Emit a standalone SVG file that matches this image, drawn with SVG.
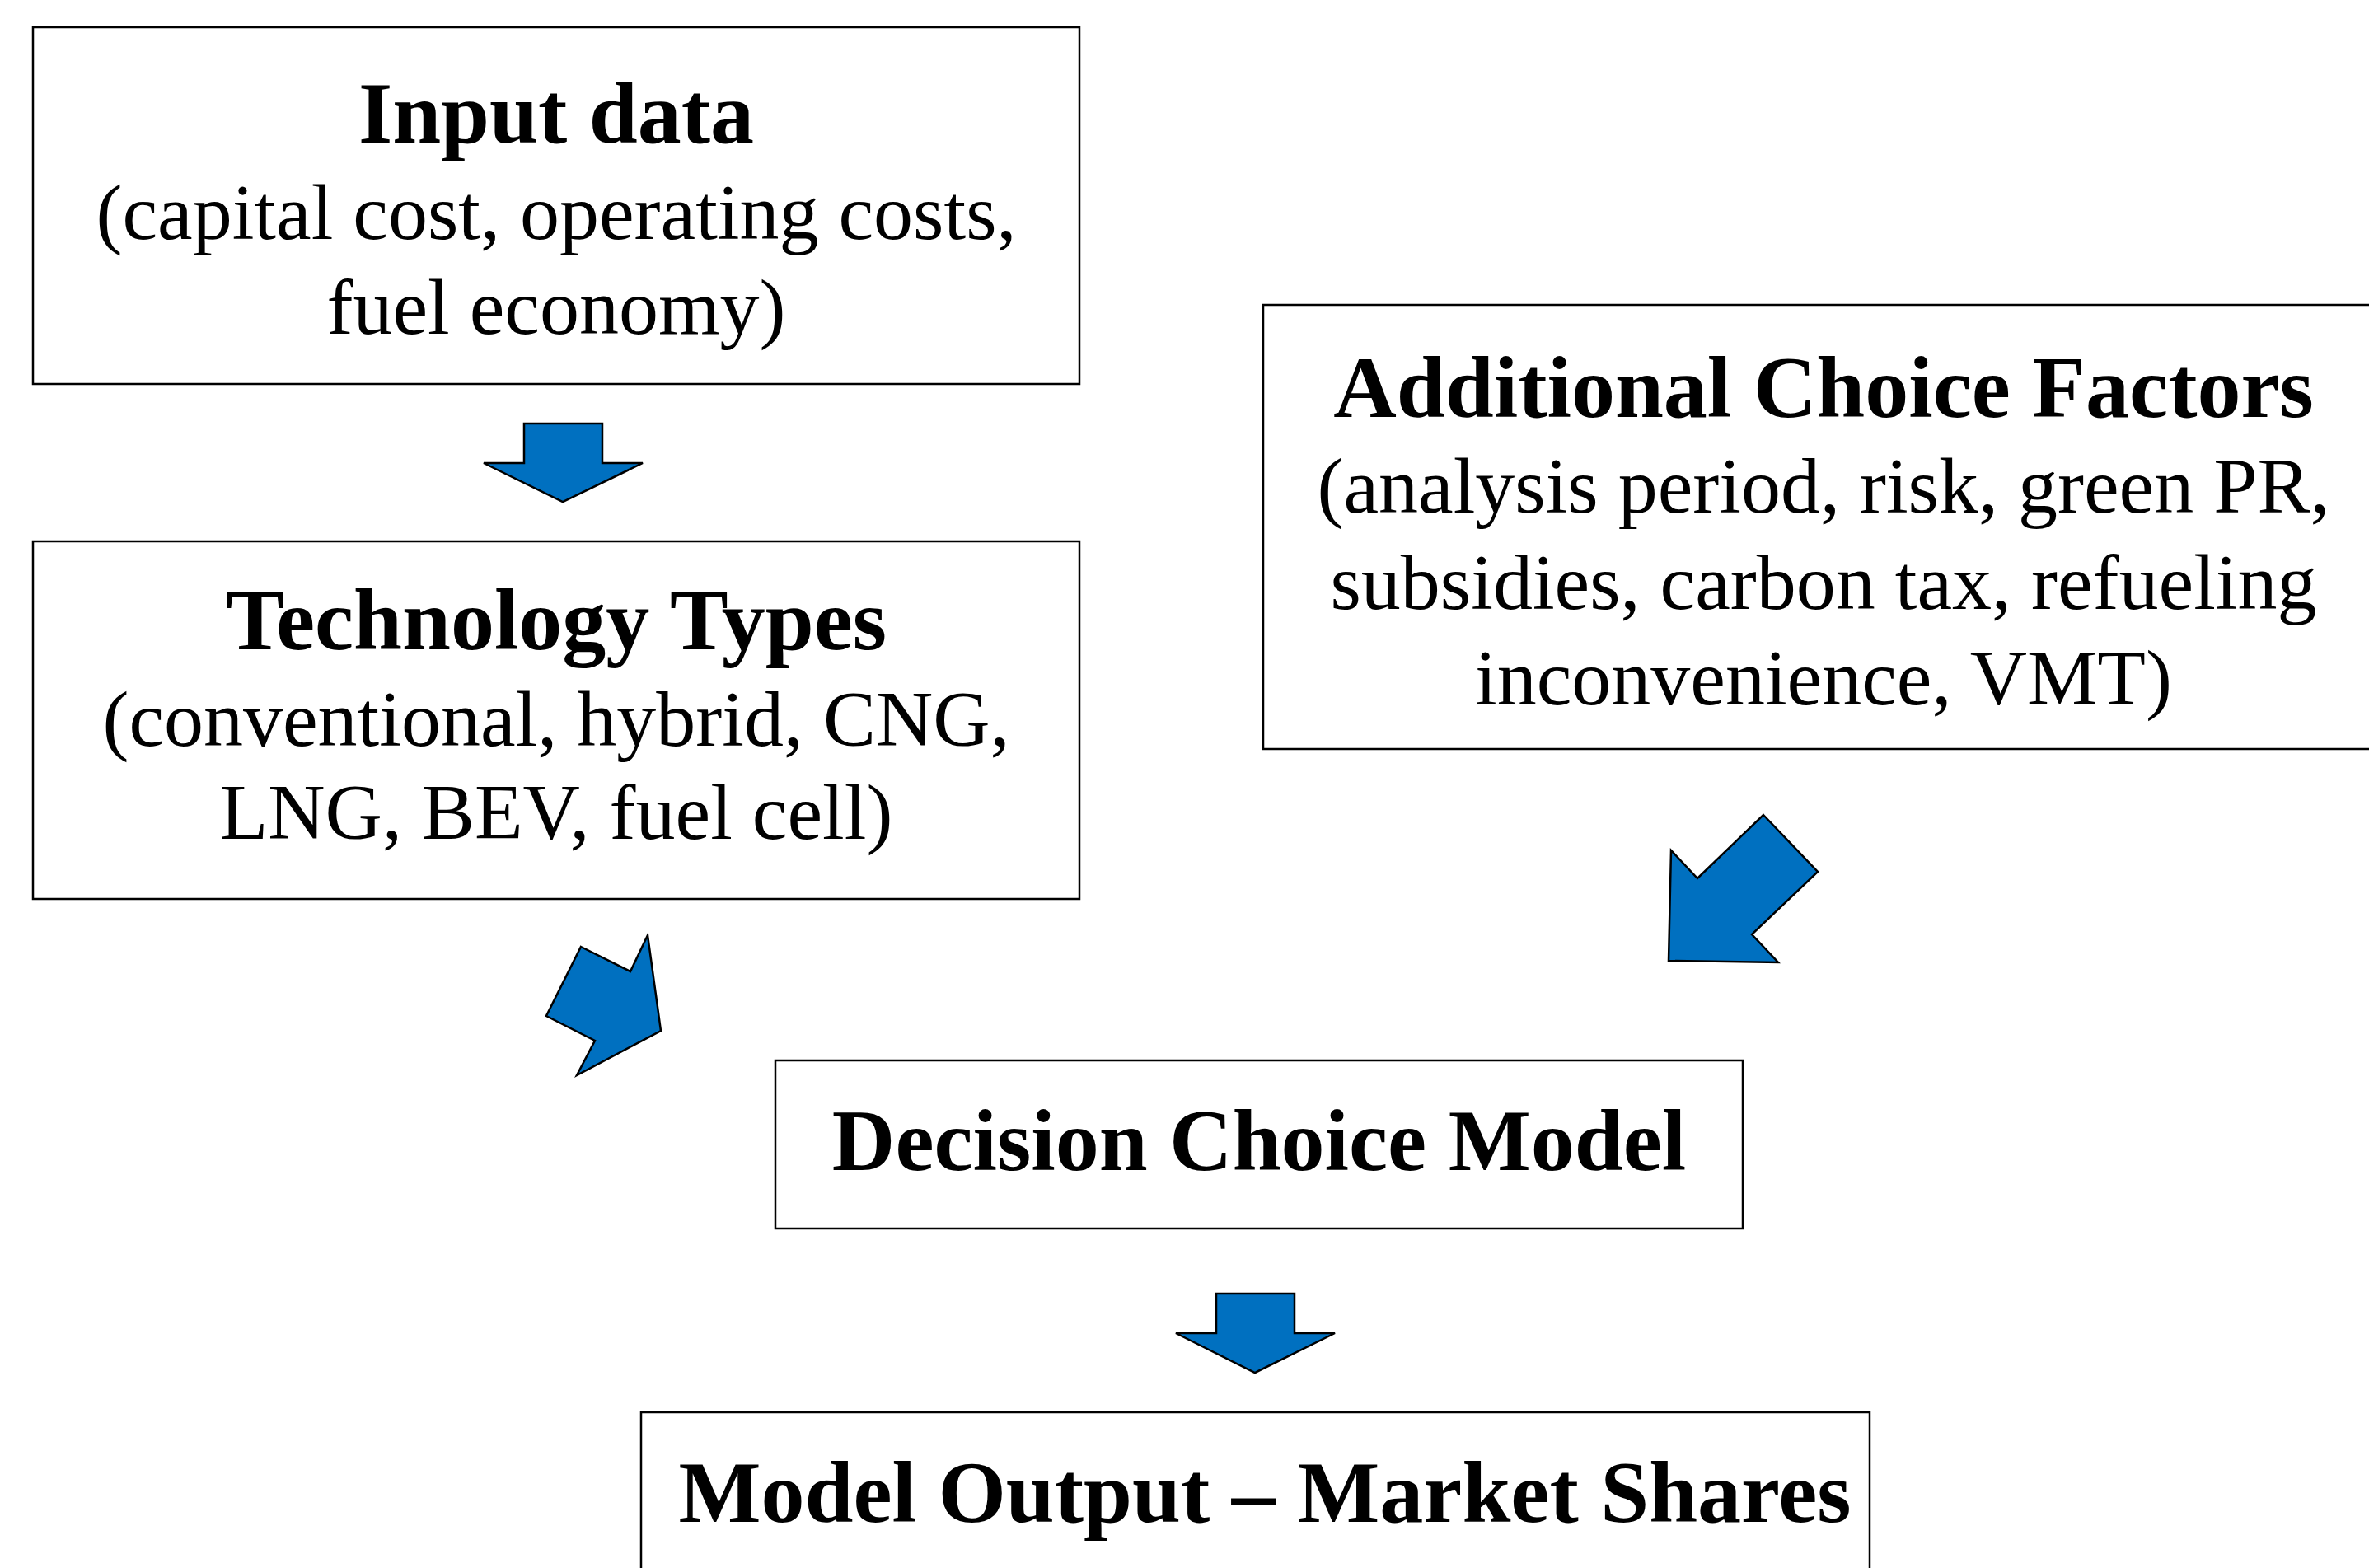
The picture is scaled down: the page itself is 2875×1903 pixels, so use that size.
<svg xmlns="http://www.w3.org/2000/svg" width="2875" height="1903" viewBox="0 0 2875 1903">
  <style>
    .box { fill: #ffffff; stroke: #000000; stroke-width: 2.5; }
    .arrow { fill: #0070C0; stroke: #000000; stroke-width: 2.5; stroke-linejoin: miter; }
    text { font-family: "Liberation Serif", "Times New Roman", serif; fill: #000000; text-anchor: middle; }
    .title { font-size: 106px; font-weight: bold; }
    .body { font-size: 96px; }
  </style>
  <rect width="2875" height="1903" fill="#ffffff"/>

  <g id="input-data">
    <rect class="box" x="40" y="33" width="1270" height="433"/>
    <text class="title" x="675" y="173">Input data</text>
    <text class="body" x="675" y="290">(capital cost, operating costs,</text>
    <text class="body" x="675" y="405">fuel economy)</text>
  </g>

  <g id="technology-types">
    <rect class="box" x="40" y="657" width="1270" height="434"/>
    <text class="title" x="675" y="788">Technology Types</text>
    <text class="body" x="675" y="905">(conventional, hybrid, CNG,</text>
    <text class="body" x="675" y="1018">LNG, BEV, fuel cell)</text>
  </g>

  <g id="additional-factors">
    <rect class="box" x="1533" y="370" width="1380" height="539"/>
    <text class="title" x="2213" y="506">Additional Choice Factors</text>
    <text class="body" x="2213" y="622">(analysis period, risk, green PR,</text>
    <text class="body" x="2213" y="739">subsidies, carbon tax, refueling</text>
    <text class="body" x="2213" y="855">inconvenience, VMT)</text>
  </g>

  <g id="decision-model">
    <rect class="box" x="941" y="1287" width="1174" height="204"/>
    <text class="title" x="1528" y="1420">Decision Choice Model</text>
  </g>

  <g id="model-output">
    <rect class="box" x="778" y="1714" width="1491" height="260"/>
    <text class="title" x="1535" y="1847">Model Output – Market Shares</text>
  </g>

  <g id="connectors">
    <polygon class="arrow" points="636,514 731,514 731,562 780,562 683,609 587,562 636,562"/>
    <polygon class="arrow" points="705,1149 765,1179 786,1135 802,1251 700,1305 722,1263 663,1233"/>
    <polygon class="arrow" points="2140,989 2206,1058 2126,1134 2158,1168 2025,1166 2028,1032 2060,1066"/>
    <polygon class="arrow" points="1476,1570 1571,1570 1571,1618 1620,1618 1523,1666 1427,1618 1476,1618"/>
  </g>
</svg>
